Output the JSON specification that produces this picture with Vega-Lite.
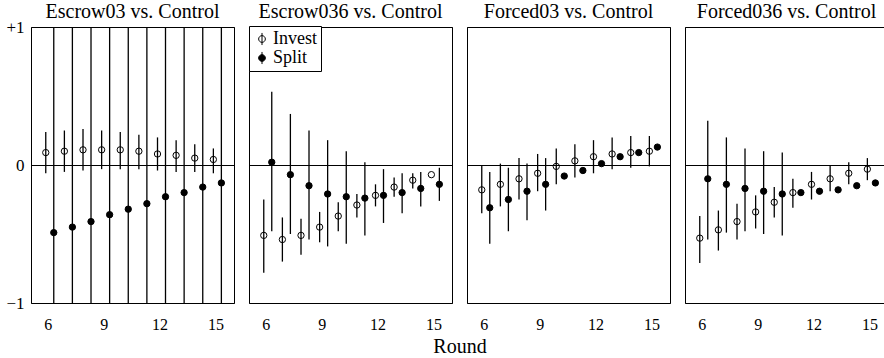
{
  "$schema": "https://vega.github.io/schema/vega-lite/v6.json",
  "padding": {"left": 5, "top": 2, "right": 0, "bottom": 0},
  "background": "white",
  "data": {"values": [
    {"panel":"Escrow03 vs. Control","round":6,"group":"Invest","est":0.09,"lo":-0.06,"hi":0.24},
    {"panel":"Escrow03 vs. Control","round":7,"group":"Invest","est":0.10,"lo":-0.05,"hi":0.25},
    {"panel":"Escrow03 vs. Control","round":8,"group":"Invest","est":0.11,"lo":-0.04,"hi":0.26},
    {"panel":"Escrow03 vs. Control","round":9,"group":"Invest","est":0.11,"lo":-0.03,"hi":0.25},
    {"panel":"Escrow03 vs. Control","round":10,"group":"Invest","est":0.11,"lo":-0.03,"hi":0.24},
    {"panel":"Escrow03 vs. Control","round":11,"group":"Invest","est":0.10,"lo":-0.03,"hi":0.22},
    {"panel":"Escrow03 vs. Control","round":12,"group":"Invest","est":0.08,"lo":-0.04,"hi":0.20},
    {"panel":"Escrow03 vs. Control","round":13,"group":"Invest","est":0.07,"lo":-0.05,"hi":0.18},
    {"panel":"Escrow03 vs. Control","round":14,"group":"Invest","est":0.05,"lo":-0.05,"hi":0.15},
    {"panel":"Escrow03 vs. Control","round":15,"group":"Invest","est":0.04,"lo":-0.06,"hi":0.12},
    {"panel":"Escrow03 vs. Control","round":6,"group":"Split","est":-0.49,"lo":-1.5,"hi":1.5},
    {"panel":"Escrow03 vs. Control","round":7,"group":"Split","est":-0.45,"lo":-1.5,"hi":1.5},
    {"panel":"Escrow03 vs. Control","round":8,"group":"Split","est":-0.41,"lo":-1.5,"hi":1.5},
    {"panel":"Escrow03 vs. Control","round":9,"group":"Split","est":-0.36,"lo":-1.5,"hi":1.5},
    {"panel":"Escrow03 vs. Control","round":10,"group":"Split","est":-0.32,"lo":-1.5,"hi":1.5},
    {"panel":"Escrow03 vs. Control","round":11,"group":"Split","est":-0.28,"lo":-1.5,"hi":1.5},
    {"panel":"Escrow03 vs. Control","round":12,"group":"Split","est":-0.23,"lo":-1.5,"hi":1.5},
    {"panel":"Escrow03 vs. Control","round":13,"group":"Split","est":-0.20,"lo":-1.5,"hi":1.5},
    {"panel":"Escrow03 vs. Control","round":14,"group":"Split","est":-0.16,"lo":-1.5,"hi":1.5},
    {"panel":"Escrow03 vs. Control","round":15,"group":"Split","est":-0.13,"lo":-1.5,"hi":1.5},
    {"panel":"Escrow036 vs. Control","round":6,"group":"Invest","est":-0.51,"lo":-0.78,"hi":-0.25},
    {"panel":"Escrow036 vs. Control","round":7,"group":"Invest","est":-0.54,"lo":-0.70,"hi":-0.38},
    {"panel":"Escrow036 vs. Control","round":8,"group":"Invest","est":-0.51,"lo":-0.65,"hi":-0.39},
    {"panel":"Escrow036 vs. Control","round":9,"group":"Invest","est":-0.45,"lo":-0.56,"hi":-0.34},
    {"panel":"Escrow036 vs. Control","round":10,"group":"Invest","est":-0.37,"lo":-0.48,"hi":-0.27},
    {"panel":"Escrow036 vs. Control","round":11,"group":"Invest","est":-0.29,"lo":-0.38,"hi":-0.21},
    {"panel":"Escrow036 vs. Control","round":12,"group":"Invest","est":-0.22,"lo":-0.30,"hi":-0.14},
    {"panel":"Escrow036 vs. Control","round":13,"group":"Invest","est":-0.16,"lo":-0.23,"hi":-0.09},
    {"panel":"Escrow036 vs. Control","round":14,"group":"Invest","est":-0.11,"lo":-0.17,"hi":-0.06},
    {"panel":"Escrow036 vs. Control","round":15,"group":"Invest","est":-0.07,"lo":null,"hi":null},
    {"panel":"Escrow036 vs. Control","round":6,"group":"Split","est":0.02,"lo":-0.48,"hi":0.53},
    {"panel":"Escrow036 vs. Control","round":7,"group":"Split","est":-0.07,"lo":-0.50,"hi":0.37},
    {"panel":"Escrow036 vs. Control","round":8,"group":"Split","est":-0.15,"lo":-0.54,"hi":0.25},
    {"panel":"Escrow036 vs. Control","round":9,"group":"Split","est":-0.21,"lo":-0.59,"hi":0.18},
    {"panel":"Escrow036 vs. Control","round":10,"group":"Split","est":-0.23,"lo":-0.57,"hi":0.10},
    {"panel":"Escrow036 vs. Control","round":11,"group":"Split","est":-0.24,"lo":-0.51,"hi":0.02},
    {"panel":"Escrow036 vs. Control","round":12,"group":"Split","est":-0.22,"lo":-0.42,"hi":-0.03},
    {"panel":"Escrow036 vs. Control","round":13,"group":"Split","est":-0.20,"lo":-0.35,"hi":-0.06},
    {"panel":"Escrow036 vs. Control","round":14,"group":"Split","est":-0.17,"lo":-0.30,"hi":-0.05},
    {"panel":"Escrow036 vs. Control","round":15,"group":"Split","est":-0.14,"lo":-0.26,"hi":-0.02},
    {"panel":"Forced03 vs. Control","round":6,"group":"Invest","est":-0.18,"lo":-0.35,"hi":0.00},
    {"panel":"Forced03 vs. Control","round":7,"group":"Invest","est":-0.14,"lo":-0.30,"hi":0.01},
    {"panel":"Forced03 vs. Control","round":8,"group":"Invest","est":-0.10,"lo":-0.25,"hi":0.05},
    {"panel":"Forced03 vs. Control","round":9,"group":"Invest","est":-0.06,"lo":-0.19,"hi":0.08},
    {"panel":"Forced03 vs. Control","round":10,"group":"Invest","est":-0.01,"lo":-0.14,"hi":0.12},
    {"panel":"Forced03 vs. Control","round":11,"group":"Invest","est":0.03,"lo":-0.09,"hi":0.15},
    {"panel":"Forced03 vs. Control","round":12,"group":"Invest","est":0.06,"lo":-0.06,"hi":0.18},
    {"panel":"Forced03 vs. Control","round":13,"group":"Invest","est":0.08,"lo":-0.03,"hi":0.20},
    {"panel":"Forced03 vs. Control","round":14,"group":"Invest","est":0.09,"lo":-0.02,"hi":0.21},
    {"panel":"Forced03 vs. Control","round":15,"group":"Invest","est":0.10,"lo":-0.01,"hi":0.21},
    {"panel":"Forced03 vs. Control","round":6,"group":"Split","est":-0.31,"lo":-0.57,"hi":-0.05},
    {"panel":"Forced03 vs. Control","round":7,"group":"Split","est":-0.25,"lo":-0.48,"hi":-0.02},
    {"panel":"Forced03 vs. Control","round":8,"group":"Split","est":-0.19,"lo":-0.40,"hi":0.01},
    {"panel":"Forced03 vs. Control","round":9,"group":"Split","est":-0.14,"lo":-0.33,"hi":0.05},
    {"panel":"Forced03 vs. Control","round":10,"group":"Split","est":-0.08,"lo":null,"hi":null},
    {"panel":"Forced03 vs. Control","round":11,"group":"Split","est":-0.04,"lo":null,"hi":null},
    {"panel":"Forced03 vs. Control","round":12,"group":"Split","est":0.01,"lo":null,"hi":null},
    {"panel":"Forced03 vs. Control","round":13,"group":"Split","est":0.06,"lo":null,"hi":null},
    {"panel":"Forced03 vs. Control","round":14,"group":"Split","est":0.09,"lo":null,"hi":null},
    {"panel":"Forced03 vs. Control","round":15,"group":"Split","est":0.13,"lo":null,"hi":null},
    {"panel":"Forced036 vs. Control","round":6,"group":"Invest","est":-0.53,"lo":-0.71,"hi":-0.37},
    {"panel":"Forced036 vs. Control","round":7,"group":"Invest","est":-0.47,"lo":-0.62,"hi":-0.33},
    {"panel":"Forced036 vs. Control","round":8,"group":"Invest","est":-0.41,"lo":-0.54,"hi":-0.28},
    {"panel":"Forced036 vs. Control","round":9,"group":"Invest","est":-0.34,"lo":-0.46,"hi":-0.22},
    {"panel":"Forced036 vs. Control","round":10,"group":"Invest","est":-0.27,"lo":-0.38,"hi":-0.16},
    {"panel":"Forced036 vs. Control","round":11,"group":"Invest","est":-0.20,"lo":-0.31,"hi":-0.10},
    {"panel":"Forced036 vs. Control","round":12,"group":"Invest","est":-0.14,"lo":-0.25,"hi":-0.05},
    {"panel":"Forced036 vs. Control","round":13,"group":"Invest","est":-0.10,"lo":-0.19,"hi":0.00},
    {"panel":"Forced036 vs. Control","round":14,"group":"Invest","est":-0.06,"lo":-0.14,"hi":0.02},
    {"panel":"Forced036 vs. Control","round":15,"group":"Invest","est":-0.03,"lo":-0.11,"hi":0.05},
    {"panel":"Forced036 vs. Control","round":6,"group":"Split","est":-0.10,"lo":-0.54,"hi":0.32},
    {"panel":"Forced036 vs. Control","round":7,"group":"Split","est":-0.14,"lo":-0.49,"hi":0.20},
    {"panel":"Forced036 vs. Control","round":8,"group":"Split","est":-0.17,"lo":-0.48,"hi":0.12},
    {"panel":"Forced036 vs. Control","round":9,"group":"Split","est":-0.19,"lo":-0.50,"hi":0.10},
    {"panel":"Forced036 vs. Control","round":10,"group":"Split","est":-0.21,"lo":-0.51,"hi":0.09},
    {"panel":"Forced036 vs. Control","round":11,"group":"Split","est":-0.20,"lo":null,"hi":null},
    {"panel":"Forced036 vs. Control","round":12,"group":"Split","est":-0.19,"lo":null,"hi":null},
    {"panel":"Forced036 vs. Control","round":13,"group":"Split","est":-0.18,"lo":null,"hi":null},
    {"panel":"Forced036 vs. Control","round":14,"group":"Split","est":-0.15,"lo":null,"hi":null},
    {"panel":"Forced036 vs. Control","round":15,"group":"Split","est":-0.13,"lo":null,"hi":null}
  ]},
  "facet": {
    "column": {
      "field": "panel", "type": "nominal",
      "sort": ["Escrow03 vs. Control","Escrow036 vs. Control","Forced03 vs. Control","Forced036 vs. Control"],
      "title": "Round",
      "header": {
        "labelOrient": "top", "titleOrient": "bottom",
        "labelFont": "Liberation Serif", "labelFontSize": 20, "labelFontWeight": 400, "labelColor": "black", "labelPadding": 4,
        "titleFont": "Liberation Serif", "titleFontSize": 20, "titleFontWeight": 400, "titleColor": "black", "titlePadding": -5
      }
    }
  },
  "spacing": 13,
  "spec": {
    "width": 203,
    "height": 276,
    "encoding": {
      "x": {"field": "round", "type": "quantitative",
        "scale": {"domain": [5.1, 16.0], "nice": false, "zero": false},
        "axis": {"values": [6, 9, 12, 15], "title": null, "ticks": false, "domain": false, "grid": false,
          "labelFont": "Liberation Serif", "labelFontSize": 16, "labelColor": "black", "labelPadding": 12}}
    },
    "layer": [
      {
        "transform": [{"filter": "datum.group === 'Invest'"}],
        "mark": {"type": "rule", "clip": true, "color": "black", "strokeWidth": 1.3, "xOffset": -2},
        "encoding": {
          "y": {"field": "lo", "type": "quantitative",
            "scale": {"domain": [-1, 1], "nice": false},
            "axis": {"values": [-1, 0, 1], "title": null, "ticks": false, "domain": false,
              "grid": true, "gridColor": "black", "gridOpacity": 1, "gridWidth": 1,
              "labelExpr": "datum.value > 0 ? '+1' : (datum.value < 0 ? '−1' : '0')",
              "labelFont": "Liberation Serif", "labelFontSize": 17, "labelColor": "black", "labelPadding": 6}},
          "y2": {"field": "hi"}
        }
      },
      {
        "transform": [{"filter": "datum.group === 'Split'"}],
        "mark": {"type": "rule", "clip": true, "color": "black", "strokeWidth": 1.3, "xOffset": 6},
        "encoding": {
          "y": {"field": "lo", "type": "quantitative"},
          "y2": {"field": "hi"}
        }
      },
      {
        "transform": [{"filter": "datum.group === 'Invest'"}],
        "mark": {"type": "point", "shape": "circle", "filled": true, "stroke": "black", "strokeWidth": 1, "size": 40, "opacity": 1, "xOffset": -2},
        "encoding": {
          "y": {"field": "est", "type": "quantitative"},
          "fill": {"field": "group", "type": "nominal",
            "scale": {"domain": ["Invest", "Split"], "range": ["transparent", "black"]},
            "legend": {"orient": "none", "legendX": 218, "legendY": -1, "title": null,
              "strokeColor": "black", "fillColor": "white", "padding": 4,
              "labelFont": "Liberation Serif", "labelFontSize": 18, "labelColor": "black",
              "symbolType": "M0,-1.8V1.8M1,0A1,1 0 1,1 -1,0A1,1 0 1,1 1,0Z",
              "symbolSize": 45, "symbolStrokeColor": "black", "symbolStrokeWidth": 1, "rowPadding": 1, "labelOffset": 2}}
        }
      },
      {
        "transform": [{"filter": "datum.group === 'Split'"}],
        "mark": {"type": "point", "shape": "circle", "filled": true, "stroke": "black", "strokeWidth": 1, "size": 40, "opacity": 1, "xOffset": 6},
        "encoding": {
          "y": {"field": "est", "type": "quantitative"},
          "fill": {"field": "group", "type": "nominal"}
        }
      }
    ]
  },
  "config": {
    "view": {"stroke": "black", "strokeWidth": 1},
    "font": "Liberation Serif",
    "header": {"labelFontWeight": 400, "titleFontWeight": 400}
  }
}
